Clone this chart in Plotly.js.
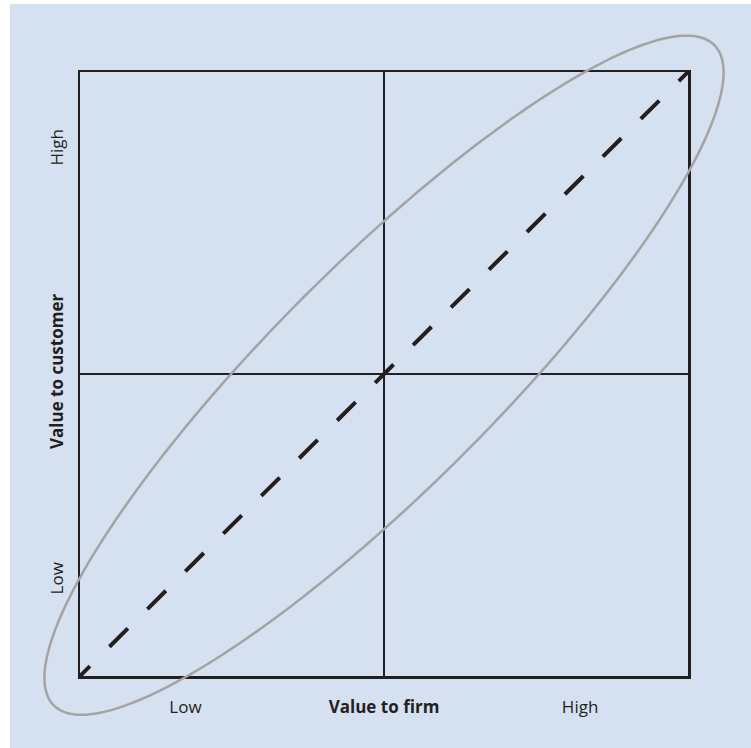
<!DOCTYPE html>
<html>
<head>
<meta charset="utf-8">
<script src="https://cdn.plot.ly/plotly-3.0.1.min.js"></script>
<style>
  html, body { margin: 0; padding: 0; background: #ffffff; }
  #chart { position: absolute; left: 10px; top: 4px; width: 741px; height: 744px; }
</style>
</head>
<body>
<div id="chart"></div>
<script>
// --- data ---
const diagX = [-1, 1];           // dashed 45° line, corner to corner
const diagY = [-1, 1];
const xTickVals = [-0.653, 0, 0.645];
const xTickText = ['Low', '<b>Value to firm</b>', 'High'];
const yTickVals = [-0.685, 0, 0.742];
const yTickText = ['Low', '<b>Value to customer</b>', 'High'];

// --- styling / geometry ---
const bg = '#d5e0f1';
const ink = '#231f20';
const plotW = 608, plotH = 604;
const ellA = 467, ellB = 112;    // semi-axes in px, rotated 45°

// dash pattern: partial dash at each end, symmetric about centre
let dash = '14px,27.5px';
for (let i = 0; i < 15; i++) dash += ',26px,27.5px';
dash += ',14px,40px';

// ellipse path in paper coordinates
let pts = [];
for (let i = 0; i <= 240; i++) {
  const t = 2 * Math.PI * i / 240;
  const u = ellA * Math.cos(t), v = ellB * Math.sin(t);
  const dx = (u - v) / Math.SQRT2, dy = (u + v) / Math.SQRT2;
  pts.push((0.5 + dx / plotW).toFixed(5) + ',' + (0.498 + dy / plotH).toFixed(5));
}
const ellPath = 'M' + pts.join('L') + 'Z';

const font = { family: '"Open Sans", "Liberation Sans", sans-serif', size: 17, color: ink };

const axisCommon = {
  range: [-1, 1],
  showgrid: false,
  zeroline: true,
  zerolinecolor: ink,
  zerolinewidth: 2.5,
  showline: true,
  mirror: true,
  linecolor: ink,
  linewidth: 2.5,
  ticks: '',
  fixedrange: true,
  tickfont: font
};

const data = [{
  x: diagX, y: diagY,
  type: 'scatter', mode: 'lines',
  line: { color: ink, width: 4, dash: dash },
  hoverinfo: 'skip'
}];

const layout = {
  width: 741, height: 744,
  margin: { l: 70, r: 63, t: 68, b: 72 },
  paper_bgcolor: bg,
  plot_bgcolor: bg,
  showlegend: false,
  font: font,
  xaxis: Object.assign({}, axisCommon, {
    tickmode: 'array', tickvals: xTickVals, ticktext: xTickText,
    ticklabelstandoff: 14
  }),
  yaxis: Object.assign({}, axisCommon, {
    tickmode: 'array', tickvals: yTickVals, ticktext: yTickText,
    tickangle: -90, ticklabelstandoff: 8
  }),
  shapes: [{
    type: 'path', xref: 'paper', yref: 'paper',
    path: ellPath,
    line: { color: '#a3a3a3', width: 2.5 },
    layer: 'above'
  }]
};

Plotly.newPlot('chart', data, layout, { staticPlot: true, displayModeBar: false });
</script>
</body>
</html>
